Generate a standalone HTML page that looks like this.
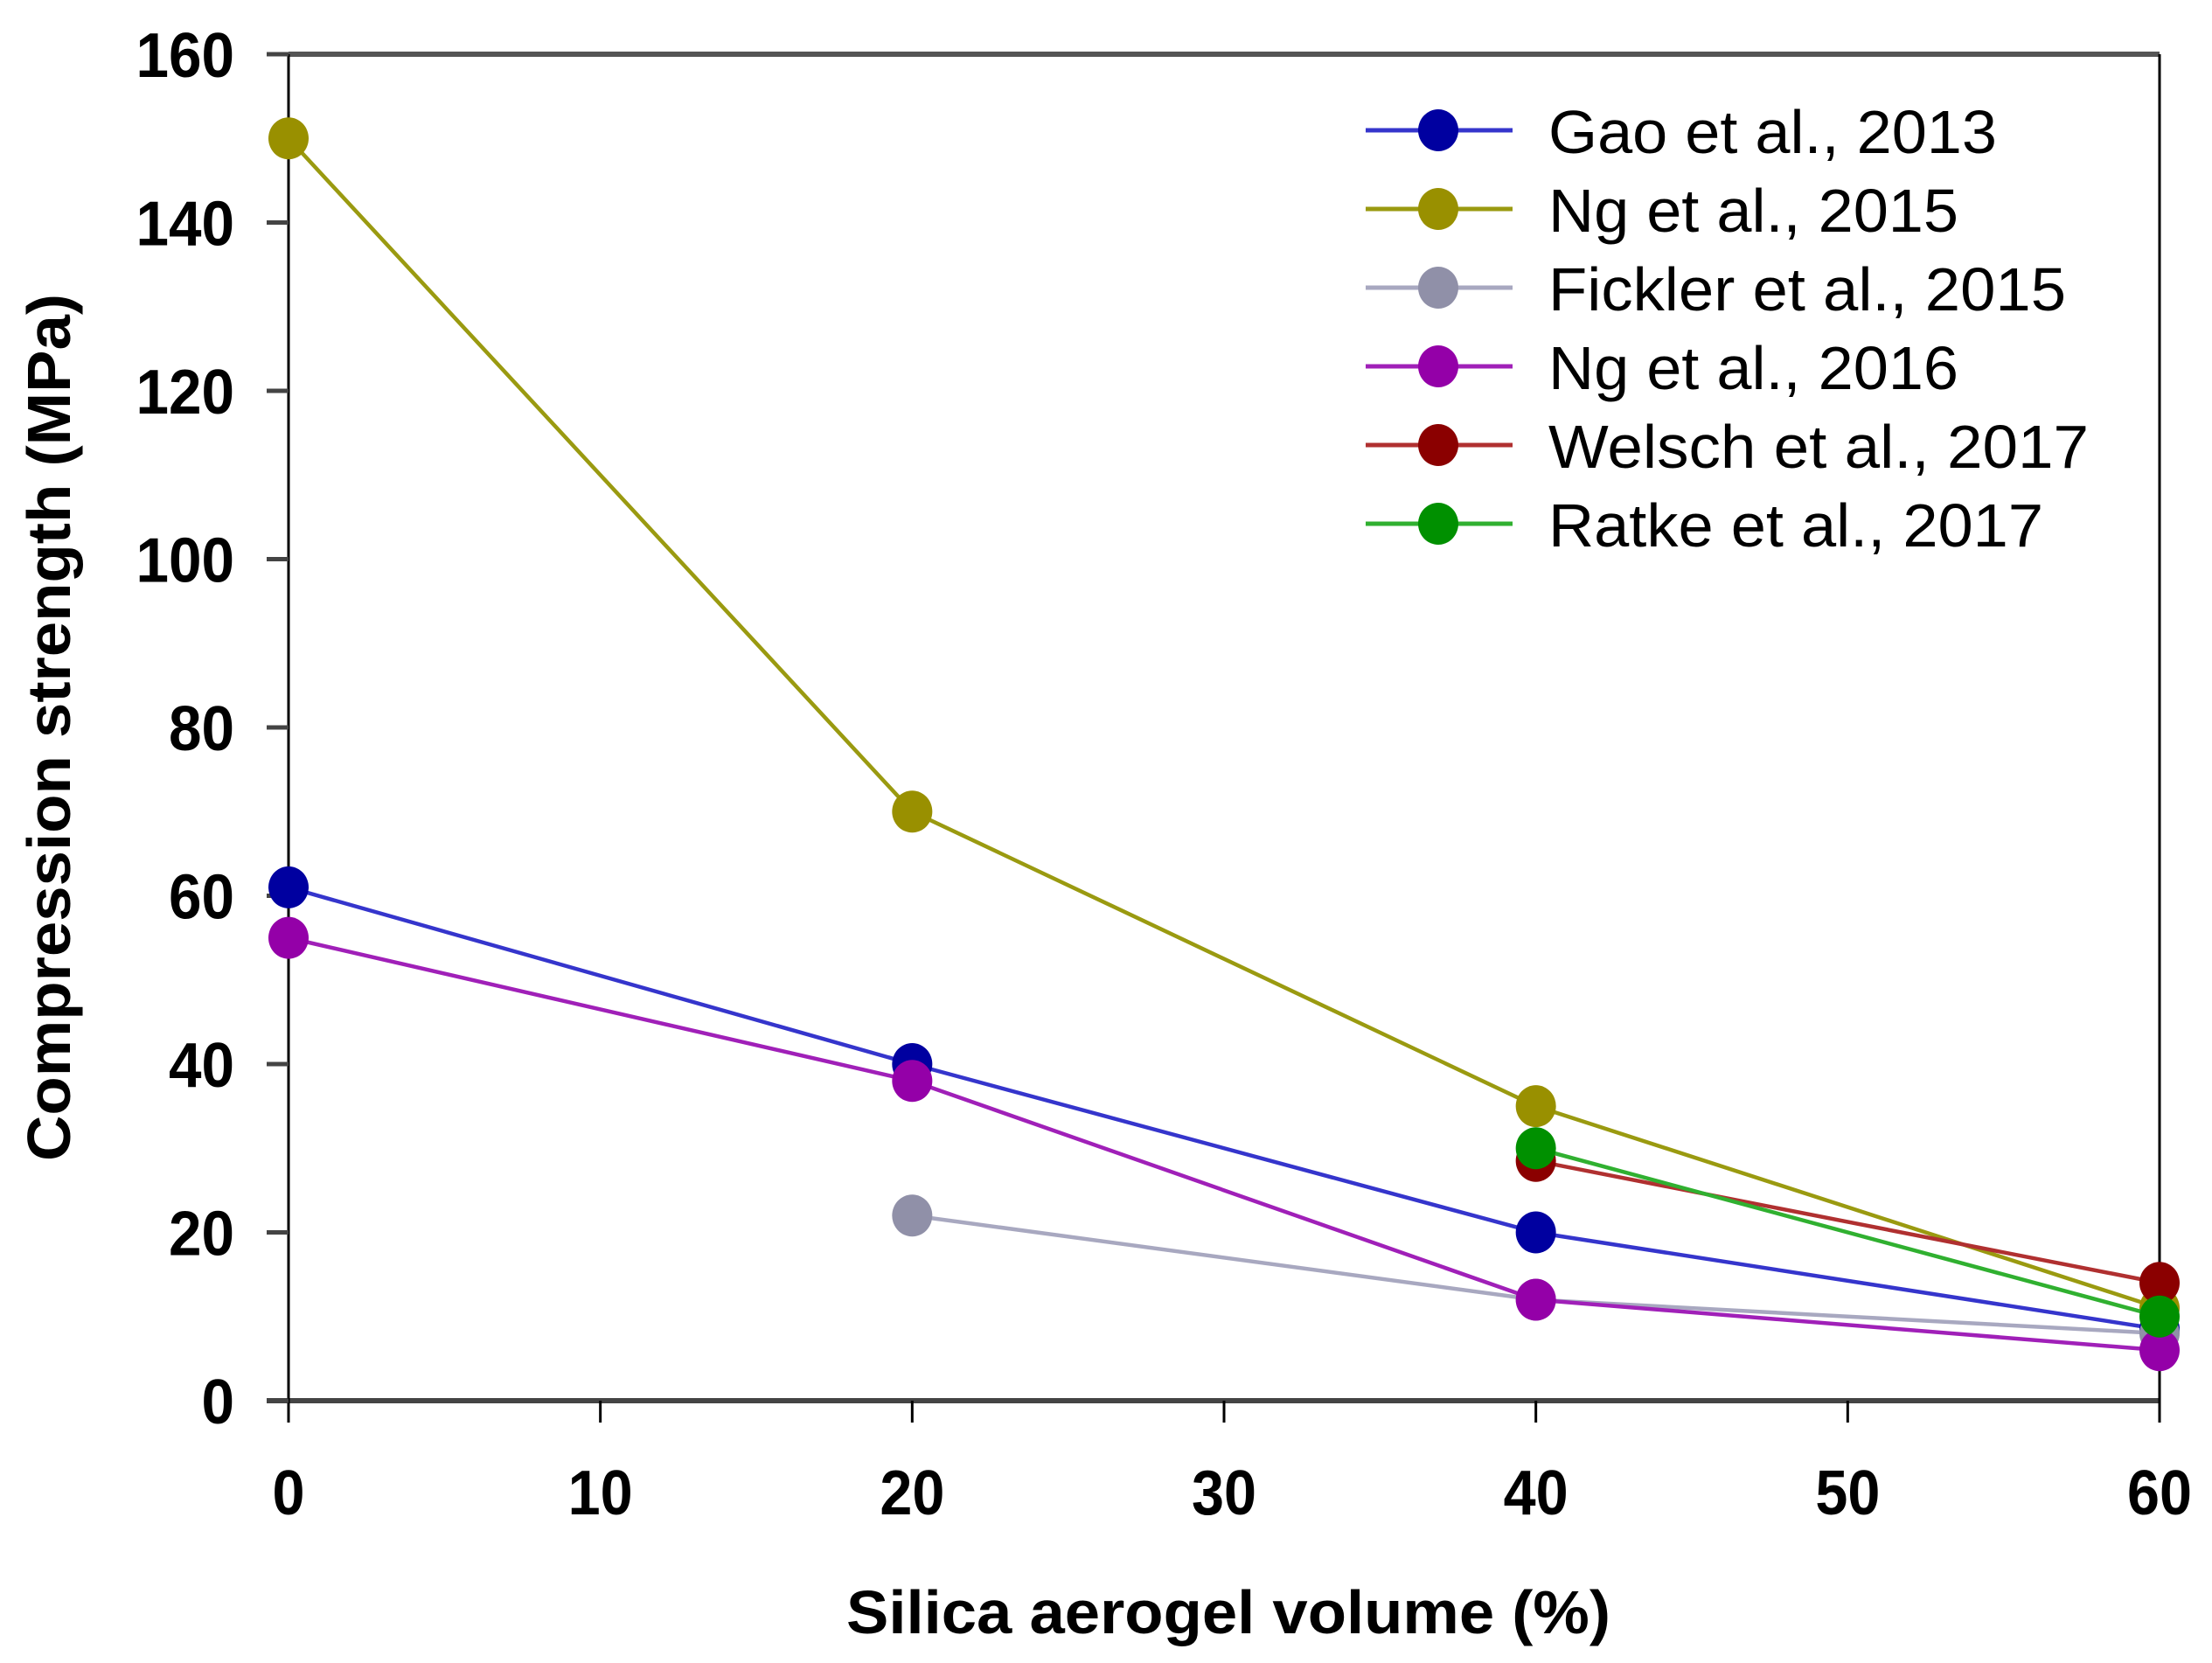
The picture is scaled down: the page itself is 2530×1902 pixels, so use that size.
<!DOCTYPE html>
<html><head><meta charset="utf-8"><style>
html,body{margin:0;padding:0;background:#fff;}
svg{display:block;font-family:"Liberation Sans",Arial,sans-serif;}
</style></head><body>
<svg id="chart" width="2530" height="1902" viewBox="0 0 2530 1902" xmlns="http://www.w3.org/2000/svg">
<rect width="2530" height="1902" fill="#fff"/>
<g id="frame"></g>
<g id="ticks"></g>
<g id="series"></g>
<g id="legend"></g>
<text x="1405" y="1868" font-size="70" font-weight="bold" text-anchor="middle" textLength="874" lengthAdjust="spacingAndGlyphs">Silica aerogel volume (%)</text>
<text transform="translate(80,832) rotate(-90)" x="0" y="0" font-size="70" font-weight="bold" text-anchor="middle" textLength="992" lengthAdjust="spacingAndGlyphs">Compression strength (MPa)</text>
</svg>
<script>
const xTicks = [0,10,20,30,40,50,60];
const yTicks = [0,20,40,60,80,100,120,140,160];
const seriesNames = ["Gao et al., 2013","Ng et al., 2015","Fickler et al., 2015","Ng et al., 2016","Welsch et al., 2017","Ratke et al., 2017"];
const gaoX = [0,20,40,60];   const gaoY = [61,40,20,8.5];
const ng15X = [0,20,40,60];  const ng15Y = [150,70,35,11];
const fickX = [20,40,60];    const fickY = [22,12,8];
const ng16X = [0,20,40,60];  const ng16Y = [55,38,12,6];
const welX = [40,60];        const welY = [28.5,14];
const ratX = [40,60];        const ratY = [30,10];

const NS="http://www.w3.org/2000/svg";
const X0=330,X1=2470,Y0=1602,Y1=62;
const legendTextW=[513,469,592,469,618,566];
const xs=v=>X0+(v-0)/60*(X1-X0);
const ys=v=>Y0-(v-0)/160*(Y0-Y1);
function mk(tag,attrs,parent){const e=document.createElementNS(NS,tag);for(const k in attrs)e.setAttribute(k,attrs[k]);parent.appendChild(e);return e;}

const frame=document.getElementById('frame');
let l;
l=mk('line',{x1:X0,y1:Y1,x2:X1,y2:Y1,stroke:'#555',"stroke-width":6},frame);


l=mk('line',{x1:X0-25,y1:Y0,x2:X1,y2:Y0,stroke:'#444',"stroke-width":6},frame);


l=mk('line',{x1:X0,y1:Y1,x2:X0,y2:Y0+25,stroke:'#000',"stroke-width":3},frame);


l=mk('line',{x1:X1,y1:Y1,x2:X1,y2:Y0,stroke:'#000',"stroke-width":3},frame);



const ticks=document.getElementById('ticks');
xTicks.forEach(v=>{
  const t=mk('line',{x1:xs(v),y1:Y0,x2:xs(v),y2:Y0+25,stroke:'#000',"stroke-width":3},ticks);
  
  
  const tx=mk('text',{x:xs(v),y:1732,"font-size":72,"font-weight":"bold","text-anchor":"middle",textLength:(String(v).length*37),lengthAdjust:"spacingAndGlyphs"},ticks);
  tx.textContent=v;
  
  
});
yTicks.forEach(v=>{
  const t=mk('line',{x1:X0-25,y1:ys(v),x2:X0,y2:ys(v),stroke:'#444',"stroke-width":5},ticks);
  
  
  const tx=mk('text',{x:268,y:ys(v)+26,"font-size":72,"font-weight":"bold","text-anchor":"end",textLength:(String(v).length*37.5),lengthAdjust:"spacingAndGlyphs"},ticks);
  tx.textContent=v;
  
  
});

const seriesDefs=[
 {xv:gaoX,yv:gaoY,line:'#3535cc',fill:'#0000a0',id:'gao-2013'},
 {xv:ng15X,yv:ng15Y,line:'#9a9a10',fill:'#999000',id:'ng-2015'},
 {xv:fickX,yv:fickY,line:'#a8a8c0',fill:'#9090a8',id:'fickler-2015'},
 {xv:ng16X,yv:ng16Y,line:'#a020b8',fill:'#9400a8',id:'ng-2016'},
 {xv:welX,yv:welY,line:'#b03030',fill:'#8b0000',id:'welsch-2017'},
 {xv:ratX,yv:ratY,line:'#30b030',fill:'#009000',id:'ratke-2017'}
];
const sg=document.getElementById('series');
seriesDefs.forEach(s=>{
  const g=mk('g',{},sg);
  
  
  const pts=s.xv.map((x,i)=>xs(x)+','+ys(s.yv[i])).join(' ');
  const pl=mk('polyline',{points:pts,fill:'none',stroke:s.line,"stroke-width":4.5},g);
  
  
  s.xv.forEach((x,i)=>{
    const c=mk('ellipse',{cx:xs(x),cy:ys(s.yv[i]),rx:23,ry:24,fill:s.fill},g);
    
    
  });
});

const lg=document.getElementById('legend');
seriesDefs.forEach((s,i)=>{
  const y=149+i*90;
  const g=mk('g',{},lg);
  
  
  mk('line',{x1:1562,y1:y,x2:1730,y2:y,stroke:s.line,"stroke-width":5},g);
  mk('ellipse',{cx:1645,cy:y,rx:23,ry:24,fill:s.fill},g);
  const t=mk('text',{x:1771,y:y+26,"font-size":70,textLength:legendTextW[i],lengthAdjust:"spacingAndGlyphs"},g);
  t.textContent=seriesNames[i];
  
  
});
</script>
</body></html>
